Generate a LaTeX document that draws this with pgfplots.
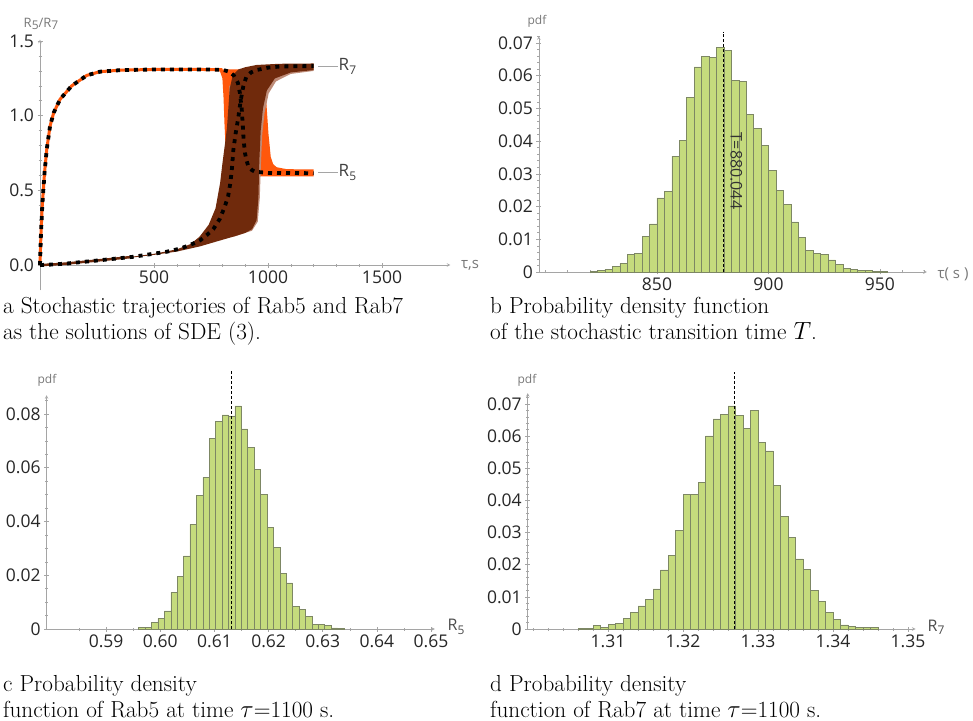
\documentclass[border=0pt]{standalone}
\usepackage{fontspec}
\usepackage{pgfplots}
\pgfplotsset{compat=1.18}
\newfontfamily\osans{Open Sans}
\definecolor{histfill}{RGB}{197,219,125}
\definecolor{histedge}{RGB}{125,135,100}
\definecolor{rbrown}{RGB}{112,42,12}
\definecolor{rbrownlt}{RGB}{190,140,120}
\definecolor{rorange}{RGB}{255,88,12}
\definecolor{axgray}{RGB}{165,165,165}
\definecolor{labgray}{RGB}{120,120,120}
\newcommand\capfont{\fontsize{23.2}{27}\selectfont}
\newcommand\sub[2]{#1\raisebox{-0.4ex}{\fontsize{12}{12}\selectfont #2}}

\pgfplotsset{
  mma/.style={
    scale only axis, clip=false, anchor=south west,
    axis line style={axgray, line width=0.6pt, -},
    tick align=inside, major tick length=5pt, minor tick length=3pt,
    tick style={axgray, line width=0.6pt},
    tick label style={font=\osans\fontsize{17.5}{19}\selectfont, text=black!85},
    scaled x ticks=false, scaled y ticks=false,
    /pgf/number format/assume math mode=true,
    /pgf/number format/1000 sep={},
  },
  hist/.style={mma, axis lines=left, ymin=0,
    yticklabel style={/pgf/number format/fixed, /pgf/number format/precision=2},
  },
  bars/.style={ybar interval, fill=histfill, draw=histedge, line width=0.5pt},
  mean/.style={black, line width=1pt, dash pattern=on 3pt off 2pt},
}

\begin{document}
\begin{tikzpicture}
\path[use as bounding box] (0,0) rectangle (973pt,720pt);

% ---- a: trajectories
\begin{axis}[mma, at={(40pt,429.6pt)}, width=410.4pt, height=250.8pt,
  axis x line=middle, axis y line=left,
  hide obscured x ticks=false, hide obscured y ticks=false,
  xmin=0, xmax=1800, ymin=-0.17, ymax=1.51,
  xtick={500,1000,1500}, minor x tick num=4,
  ytick={0,0.5,1,1.5}, minor y tick num=4,
  yticklabel style={/pgf/number format/fixed, /pgf/number format/fixed zerofill, /pgf/number format/precision=1},
]
% R5 spread
\addplot[fill=rorange, draw=none] coordinates {
(760,1.31) (790,1.295) (800,1.25) (805,1.12) (809,0.95) (813,0.82) (820,0.74) (833,0.68)
(850,0.64) (870,0.61) (900,0.598) (950,0.594) (1200,0.593) (1200,0.64) (1082,0.642)
(1038,0.655) (1023,0.675) (1012,0.725) (1002,0.88) (992,1.105) (970,1.217) (930,1.29) (880,1.31)};
\addplot[rorange, line width=3pt] coordinates {
(0,0) (4,0.2) (10,0.4) (20,0.62) (30,0.78) (44,0.93) (60,1.02) (88,1.11) (139,1.2)
(205,1.27) (263,1.295) (350,1.305) (500,1.31) (700,1.31) (800,1.308)};
% R7 spread
\addplot[fill=rbrownlt, draw=none] coordinates {
(830,1.2) (1200,1.35) (1200,1.30) (1100,1.28) (1035,1.23) (1003,1.15) (985,1.02)
(975,0.88) (969,0.68) (964,0.45) (955,0.29) (930,0.23) (850,0.19)};
\addplot[fill=rbrown, draw=none] coordinates {
(350,0.045) (500,0.075) (600,0.105) (660,0.14) (700,0.19) (740,0.27) (770,0.38) (790,0.55)
(800,0.68) (812,0.82) (820,0.92) (826,1.05) (832,1.18) (845,1.27) (870,1.31) (900,1.325)
(950,1.34) (1050,1.348) (1200,1.35) (1200,1.306) (1100,1.29) (1030,1.25) (995,1.17)
(978,1.05) (968,0.9) (962,0.7) (958,0.45) (950,0.30) (930,0.24) (900,0.215) (848,0.19)
(780,0.16) (702,0.125) (600,0.09) (500,0.068) (350,0.04)};
\addplot[rbrown, line width=2.5pt] coordinates {
(0,0) (50,0.003) (117,0.01) (250,0.03) (409,0.055)};
% means
\addplot[black, line width=3.8pt, dash pattern=on 4pt off 5pt] coordinates {
(0,0) (4,0.2) (10,0.4) (20,0.62) (30,0.78) (44,0.93) (60,1.02) (88,1.11) (139,1.2)
(205,1.27) (263,1.295) (350,1.305) (500,1.31) (700,1.31) (800,1.308) (830,1.295)
(850,1.27) (868,1.22) (877,1.15) (885,1.04) (890,0.92) (893,0.84) (899,0.75) (906,0.70)
(914,0.66) (930,0.635) (943,0.625) (1000,0.617) (1200,0.615)};
\addplot[black, line width=3.8pt, dash pattern=on 4pt off 5pt] coordinates {
(0,0) (50,0.003) (117,0.01) (250,0.03) (409,0.055) (556,0.089) (614,0.11) (658,0.134)
(702,0.165) (731,0.2) (760,0.24) (789,0.31) (810,0.39) (825,0.46) (835,0.55) (842,0.65)
(848,0.77) (858,0.88) (870,0.99) (880,1.1) (892,1.2) (905,1.26) (925,1.29) (950,1.306)
(1000,1.322) (1053,1.33) (1200,1.333)};
\draw[axgray, line width=0.8pt] (axis cs:1220,1.33) -- (axis cs:1305,1.33);
\draw[axgray, line width=0.8pt] (axis cs:1220,0.618) -- (axis cs:1305,0.618);
\node[anchor=west, inner sep=1pt, text=black!75, font=\osans\fontsize{17}{18}\selectfont] at (axis cs:1305,1.33) {\sub{R}{7}};
\node[anchor=west, inner sep=1pt, text=black!75, font=\osans\fontsize{17}{18}\selectfont] at (axis cs:1305,0.618) {\sub{R}{5}};
\end{axis}
\node[text=labgray, font=\osans\fontsize{13}{14}\selectfont] at (41pt,696pt) {\sub{R}{5}/\sub{R}{7}};
\node[text=labgray, font=\osans\fontsize{15}{16}\selectfont] at (470pt,455pt) {τ,s};

% ---- b: transition time
\begin{axis}[hist, at={(538.8pt,448pt)}, width=388pt, height=235.8pt,
  xmin=797, xmax=971, ymax=0.0721,
  xtick={850,900,950}, minor xtick={800,810,...,970},
  ytick={0,0.01,...,0.07}, minor ytick={0,0.002,...,0.072},
]
\addplot[bars] coordinates {
(820,0.0002) (823.33,0.0004) (826.67,0.0009) (830,0.0017) (833.33,0.0026) (836.67,0.0055)
(840,0.0058) (843.33,0.0109) (846.67,0.0147) (850,0.0227) (853.33,0.0246) (856.67,0.0354)
(860,0.0403) (863.33,0.0533) (866.67,0.0627) (870,0.0660) (873.33,0.0657) (876.67,0.0687)
(880,0.0678) (883.33,0.0585) (886.67,0.0582) (890,0.0481) (893.33,0.0439) (896.67,0.0387)
(900,0.0311) (903.33,0.0250) (906.67,0.0206) (910,0.0153) (913.33,0.0106) (916.67,0.0067)
(920,0.0057) (923.33,0.0054) (926.67,0.0037) (930,0.0024) (933.33,0.0012) (936.67,0.0009)
(940,0.0005) (943.33,0.0004) (946.67,0.0002) (950,0.0002) (953.33,0)};
\addplot[mean] coordinates {(880.044,0) (880.044,0.0735)};
\node[rotate=-90, text=black!80, font=\osans\fontsize{16}{18}\selectfont] at (axis cs:885.6,0.031) {T=880.044};
\end{axis}
\node[text=labgray, font=\osans\fontsize{12}{13}\selectfont] at (537pt,699pt) {pdf};
\node[text=labgray, font=\osans\fontsize{15}{16}\selectfont] at (953pt,446pt) {τ( s )};

% ---- c: Rab5
\begin{axis}[hist, at={(46.6pt,91pt)}, width=388.2pt, height=233.8pt,
  xmin=0.579, xmax=0.6507, ymax=0.087,
  xtick={0.59,0.60,...,0.65}, minor xtick={0.585,0.595,...,0.645},
  xticklabel style={/pgf/number format/fixed, /pgf/number format/fixed zerofill, /pgf/number format/precision=2},
  ytick={0,0.02,...,0.08}, minor ytick={0,0.005,...,0.085},
]
\addplot[bars] coordinates {
(0.59600,0.0005) (0.59719,0.0006) (0.59837,0.0025) (0.59956,0.0040) (0.60074,0.0067)
(0.60193,0.0136) (0.60311,0.0195) (0.60430,0.0272) (0.60548,0.0389) (0.60667,0.0497)
(0.60785,0.0564) (0.60904,0.0708) (0.61022,0.0774) (0.61141,0.0797) (0.61259,0.0793)
(0.61378,0.0830) (0.61496,0.0745) (0.61615,0.0677) (0.61733,0.0594) (0.61852,0.0501)
(0.61970,0.0378) (0.62089,0.0303) (0.62207,0.0206) (0.62326,0.0172) (0.62444,0.0084)
(0.62563,0.0072) (0.62681,0.0047) (0.62800,0.0016) (0.62918,0.0016) (0.63037,0.0014)
(0.63155,0.0004) (0.63274,0.0003) (0.63392,0)};
\addplot[mean] coordinates {(0.6132,0) (0.6132,0.0964)};
\end{axis}
\node[text=labgray, font=\osans\fontsize{12}{13}\selectfont] at (47pt,340pt) {pdf};
\node[text=black!70, font=\osans\fontsize{16}{18}\selectfont] at (456pt,93pt) {\sub{R}{5}};

% ---- d: Rab7
\begin{axis}[hist, at={(527.75pt,91pt)}, width=387.75pt, height=235.9pt,
  xmin=1.2993, xmax=1.351, ymax=0.0734,
  xtick={1.31,1.32,...,1.35}, minor xtick={1.300,1.302,...,1.350},
  xticklabel style={/pgf/number format/fixed, /pgf/number format/fixed zerofill, /pgf/number format/precision=2},
  ytick={0,0.01,...,0.07}, minor ytick={0,0.002,...,0.072},
]
\addplot[bars] coordinates {
(1.306,0.0002) (1.307,0.0003) (1.308,0.0012) (1.309,0.0005) (1.310,0.0015) (1.311,0.0018)
(1.312,0.0034) (1.313,0.0052) (1.314,0.0072) (1.315,0.0093) (1.316,0.0125) (1.317,0.0184)
(1.318,0.0229) (1.319,0.0307) (1.320,0.0419) (1.321,0.0419) (1.322,0.0457) (1.323,0.0601)
(1.324,0.0654) (1.325,0.0668) (1.326,0.0694) (1.327,0.0664) (1.328,0.0625) (1.329,0.0680)
(1.330,0.0581) (1.331,0.0554) (1.332,0.0447) (1.333,0.0351) (1.334,0.0285) (1.335,0.0218)
(1.336,0.0186) (1.337,0.0120) (1.338,0.0085) (1.339,0.0051) (1.340,0.0030) (1.341,0.0013)
(1.342,0.0009) (1.343,0.0004) (1.344,0.0004) (1.345,0.0005) (1.346,0)};
\addplot[mean] coordinates {(1.3269,0) (1.3269,0.080)};
\end{axis}
\node[text=labgray, font=\osans\fontsize{12}{13}\selectfont] at (527pt,340pt) {pdf};
\node[text=black!70, font=\osans\fontsize{16}{18}\selectfont] at (936pt,93pt) {\sub{R}{7}};

% ---- captions
\node[anchor=base west, inner sep=0pt, font=\capfont] at (3pt,406pt) {a Stochastic trajectories of Rab5 and Rab7};
\node[anchor=base west, inner sep=0pt, font=\capfont] at (3pt,380pt) {as the solutions of SDE (3).};
\node[anchor=base west, inner sep=0pt, font=\capfont] at (490pt,406pt) {b Probability density function};
\node[anchor=base west, inner sep=0pt, font=\capfont] at (490pt,380pt) {of the stochastic transition time $T$.};
\node[anchor=base west, inner sep=0pt, font=\capfont] at (3pt,29pt) {c Probability density};
\node[anchor=base west, inner sep=0pt, font=\capfont] at (3pt,3pt) {function of Rab5 at time $\tau$=1100 s.};
\node[anchor=base west, inner sep=0pt, font=\capfont] at (490pt,29pt) {d Probability density};
\node[anchor=base west, inner sep=0pt, font=\capfont] at (490pt,3pt) {function of Rab7 at time $\tau$=1100 s.};
\end{tikzpicture}
\end{document}
